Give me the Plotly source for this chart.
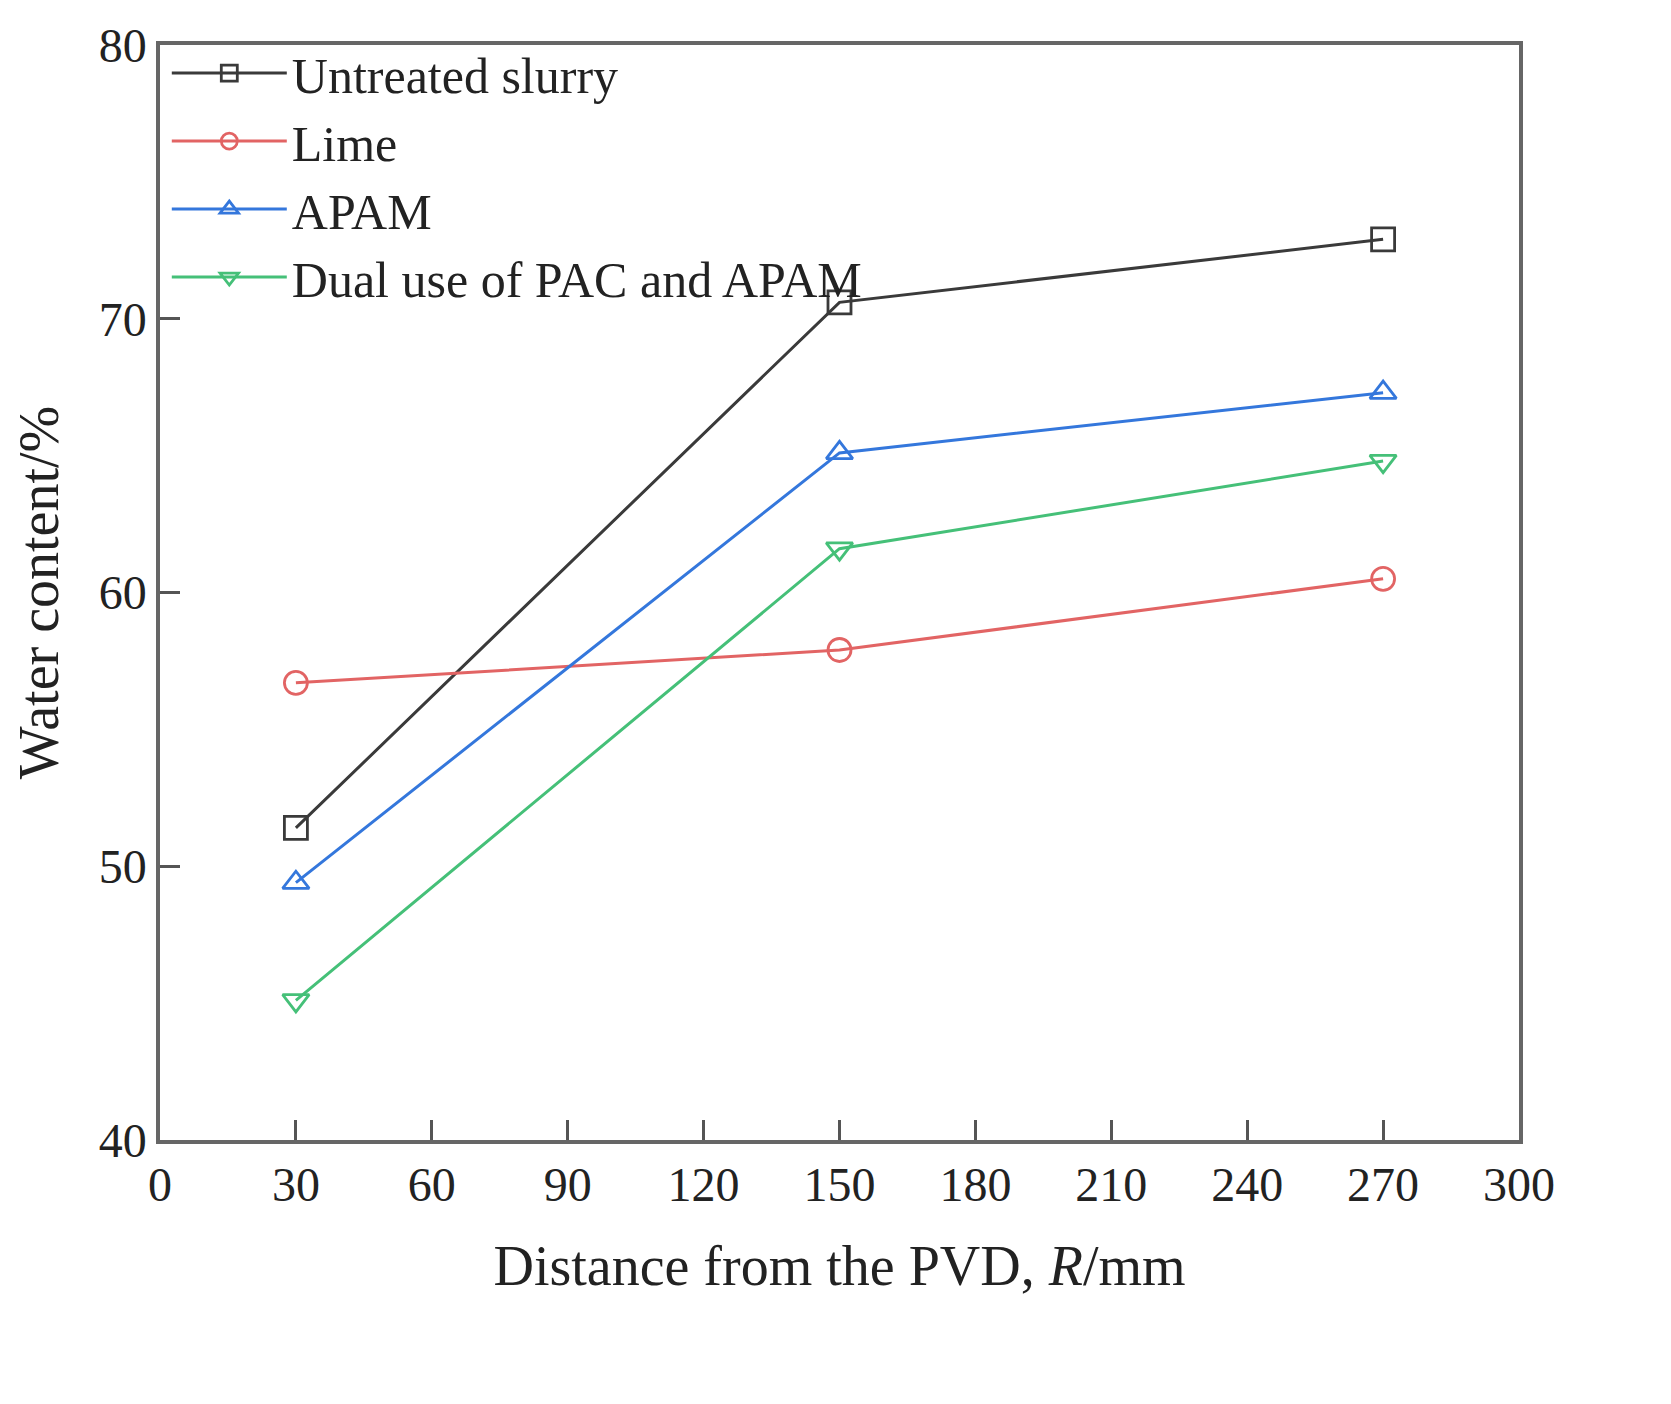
import plotly.graph_objects as go

# distances from the PVD (mm)
distance = [30, 150, 270]

# water content (%) per treatment
untreated = [51.4, 70.6, 72.9]
lime = [56.7, 57.9, 60.5]
apam = [49.4, 65.1, 67.3]
dual = [45.1, 61.6, 64.8]

names = ['Untreated slurry', 'Lime', 'APAM', 'Dual use of PAC and APAM']
colors = ['#3a3a3a', '#e26464', '#3477dc', '#45c078']
symbols = ['square-open', 'circle-open', 'triangle-up-open', 'triangle-down-open']

x_ticks = [0, 30, 60, 90, 120, 150, 180, 210, 240, 270, 300]
y_ticks = [40, 50, 60, 70, 80]

fig = go.Figure()
for name, vals, col, sym in zip(names, [untreated, lime, apam, dual], colors, symbols):
    fig.add_trace(go.Scatter(
        x=distance, y=vals, name=name, mode='lines+markers',
        line=dict(color=col, width=3),
        marker=dict(symbol=sym, size=23, color=col, line=dict(width=2.8, color=col)),
    ))

font = 'Liberation Serif, Times New Roman, serif'
axis_common = dict(
    showline=True, linecolor='#666666', linewidth=3.5, mirror=True,
    ticks='inside', ticklen=20, tickwidth=3, tickcolor='#555555',
    showgrid=False, zeroline=False,
    tickfont=dict(family=font, size=48, color='#222222'),
)

fig.update_xaxes(range=[0, 300], tickvals=x_ticks,
                 title=dict(text='Distance from the PVD, <i>R</i>/mm',
                            font=dict(family=font, size=56, color='#222222'), standoff=36),
                 **axis_common)
fig.update_yaxes(range=[40, 80], tickvals=y_ticks,
                 title=dict(text='Water content/%',
                            font=dict(family=font, size=56, color='#222222'), standoff=24),
                 **axis_common)

fig.update_layout(
    width=1671, height=1404,
    plot_bgcolor='white', paper_bgcolor='white',
    margin=dict(l=152, r=160, t=37, b=272),
    legend=dict(x=0.005, y=1.01, xanchor='left', yanchor='top',
                bgcolor='rgba(0,0,0,0)', itemwidth=115, tracegroupgap=0,
                font=dict(family=font, size=50, color='#222222')),
)

fig.write_html('out.html')
